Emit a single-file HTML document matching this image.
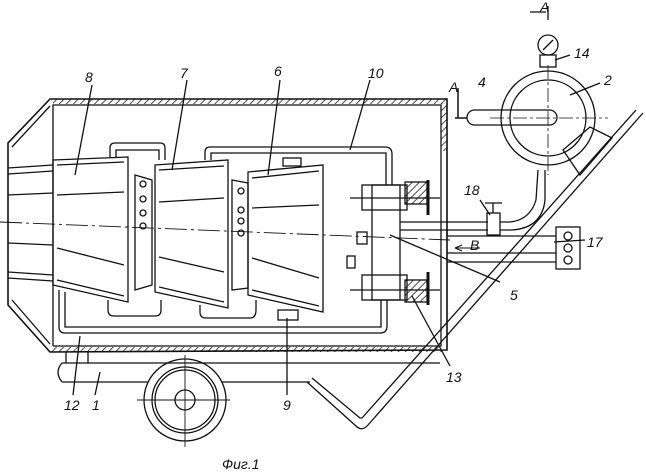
<!DOCTYPE html>
<html><head><meta charset="utf-8"><style>
html,body{margin:0;padding:0;background:#fff;}
svg{display:block;}
text{font-family:"Liberation Sans",sans-serif;font-style:italic;font-size:14px;fill:#111;}
</style></head><body>
<svg width="646" height="475" viewBox="0 0 646 475" xmlns="http://www.w3.org/2000/svg" fill="none" stroke="#111" stroke-width="1.3">
<defs>
<pattern id="h" width="5" height="5" patternUnits="userSpaceOnUse" patternTransform="rotate(45)"><line x1="0" y1="0" x2="0" y2="5" stroke="#111" stroke-width="1.5"/></pattern>
</defs>
<!-- housing -->
<path d="M50,99 L447,99 L447,350 L50,352 L8,305 L8,143 Z" stroke-width="1.6"/>
<path d="M53,346 L53,105 L441,105 L441,346 L53,346"/>
<rect x="53" y="99" width="394" height="5" fill="url(#h)" stroke="none"/>
<rect x="441" y="103" width="6" height="48" fill="url(#h)" stroke="none"/>
<rect x="50" y="347" width="392" height="5" fill="url(#h)" stroke="none"/>
<path d="M12,147 L50,106 M12,300 L50,344"/>
<!-- nozzle -->
<path d="M8,168 L53,165 M8,174 L53,171 M8,195 L53,193 M8,243 L53,245 M8,272 L53,275 M8,278 L53,281"/>
<!-- cones -->
<path d="M53,160 L128,157 L128,302 L53,285 Z"/>
<path d="M57,165 L124,162 M57,280 L124,296 M57,195 L124,192 M57,248 L124,265"/>
<path d="M155,165 L228,160 L228,308 L155,292 Z"/>
<path d="M159,170 L224,166 M159,287 L224,302 M159,202 L224,198 M159,257 L224,272"/>
<path d="M248,172 L323,165 L323,312 L248,295 Z"/>
<path d="M252,178 L319,171 M252,290 L319,306 M252,208 L319,205 M252,258 L319,278"/>
<path d="M135,175 L152,180 L152,285 L135,290 Z"/>
<path d="M232,180 L248,183 L248,288 L232,290 Z"/>
<circle cx="143" cy="184" r="3"/><circle cx="143" cy="199" r="3"/><circle cx="143" cy="213" r="3"/><circle cx="143" cy="226" r="3"/>
<circle cx="241" cy="191" r="3"/><circle cx="241" cy="210" r="3"/><circle cx="241" cy="221" r="3"/><circle cx="241" cy="233" r="3"/>
<!-- pipes loops -->
<path d="M110,157 L110,148 Q110,143 115,143 L160,143 Q165,143 165,148 L165,160"/>
<path d="M116,157 L116,150 L159,150 L159,160"/>
<path d="M205,160 L205,152 Q205,147 210,147 L385,147 Q392,147 392,154 L392,185"/>
<path d="M211,160 L211,153 L386,153 L386,185"/>
<path d="M59,290 L59,327 Q59,333 65,333 L380,333 Q387,333 387,326 L387,300"/>
<path d="M65,292 L65,327 L381,327 L381,300"/>
<path d="M108,300 L108,310 Q108,316 114,316 L155,316 Q161,316 161,310 L161,300"/>
<path d="M200,305 L200,312 Q200,318 206,318 L250,318 Q256,318 256,310 L256,300"/>
<rect x="283" y="158" width="18" height="8"/><rect x="278" y="310" width="20" height="10"/>
<!-- axis -->
<path d="M0,222 L450,240" stroke-dasharray="22,4,3,4" stroke-width="0.9"/>
<!-- chamber 5 -->
<rect x="372" y="185" width="28" height="115"/>
<rect x="362" y="185" width="45" height="25"/><rect x="362" y="275" width="45" height="25"/>
<rect x="405" y="182" width="22" height="22" fill="url(#h)"/><rect x="405" y="280" width="22" height="22" fill="url(#h)"/>
<path d="M350,198 L440,198 M350,290 L440,290"/>
<line x1="428" y1="180" x2="428" y2="215" stroke-width="3"/><line x1="428" y1="272" x2="428" y2="305" stroke-width="3"/>
<rect x="357" y="232" width="10" height="12"/><rect x="347" y="256" width="8" height="12"/>
<!-- pipe to valve -->
<path d="M400,222 L488,222 M400,230 L488,230 M500,222 L510,222 Q530,220 536,200 L538,170 M500,230 L512,230 Q542,228 545,200 L545,170"/>
<rect x="487" y="213" width="13" height="22"/><path d="M493,213 L493,203 M485,203 L502,203"/>
<!-- tank -->
<circle cx="548" cy="118" r="47"/><circle cx="548" cy="118" r="38"/>
<rect x="540" y="55" width="16" height="12"/><circle cx="548" cy="45" r="10"/><path d="M543,50 L553,40"/>
<rect x="467" y="110" width="90" height="15" rx="7.5"/>
<path d="M548,65 L548,175 M490,118 L608,118" stroke-dasharray="14,3,3,3" stroke-width="0.8"/>
<path d="M563,150 L590,127 L612,138 L580,175 Z"/>
<path d="M455,118 L467,118 M458,88 L458,118" stroke-width="1.5"/>
<path d="M548,6 L548,20 M530,12 L546,12"/>
<!-- frame -->
<path d="M643,113 L368,425 Q362,432 356,426 L307,382"/>
<path d="M636,110 L362,418 Q362,418 360,418 L312,378"/>
<rect x="556" y="227" width="24" height="42"/>
<circle cx="568" cy="236" r="4"/><circle cx="568" cy="248" r="4"/><circle cx="568" cy="260" r="4"/>
<path d="M447,253 L556,253 M447,262 L556,262"/>
<path d="M447,236 L556,236 M447,230 L447,236"/>
<!-- bottom tube -->
<path d="M62,363 L440,363 M62,382 L148,382 M222,382 L310,382"/>
<path d="M62,363 Q54,372 62,382"/>
<path d="M66,352 L66,363 M88,352 L88,363"/>
<!-- wheel -->
<circle cx="185" cy="400" r="41"/><circle cx="185" cy="400" r="33"/><circle cx="185" cy="400" r="30"/><circle cx="185" cy="400" r="10"/>
<path d="M137,400 L230,400 M185,355 L185,447" stroke-width="0.9"/>
<!-- leaders -->
<path d="M92,85 L75,175 M187,80 L172,170 M280,80 L268,175 M370,80 L350,150 M287,395 L287,318 M73,395 L80,336 M95,395 L100,372 M450,366 L412,296 M500,282 L390,235 M480,200 L490,215 M554,242 L585,240 M555,60 L570,55 M570,95 L600,83"/>
<g stroke="none">
<text x="85" y="82">8</text><text x="180" y="78">7</text><text x="274" y="76">6</text><text x="368" y="78">10</text>
<text x="540" y="12">A</text><text x="449" y="92">A</text><text x="478" y="87">4</text>
<text x="574" y="58">14</text><text x="604" y="85">2</text><text x="464" y="195">18</text>
<text x="587" y="247">17</text><text x="470" y="250">B</text><text x="510" y="300">5</text>
<text x="446" y="382">13</text><text x="64" y="410">12</text><text x="92" y="410">1</text>
<text x="283" y="410">9</text><text x="222" y="469">Фиг.1</text>
</g>
<path d="M455,248 L480,248 M455,248 L462,245 M455,248 L462,251" stroke-width="1"/>
</svg>
</body></html>
